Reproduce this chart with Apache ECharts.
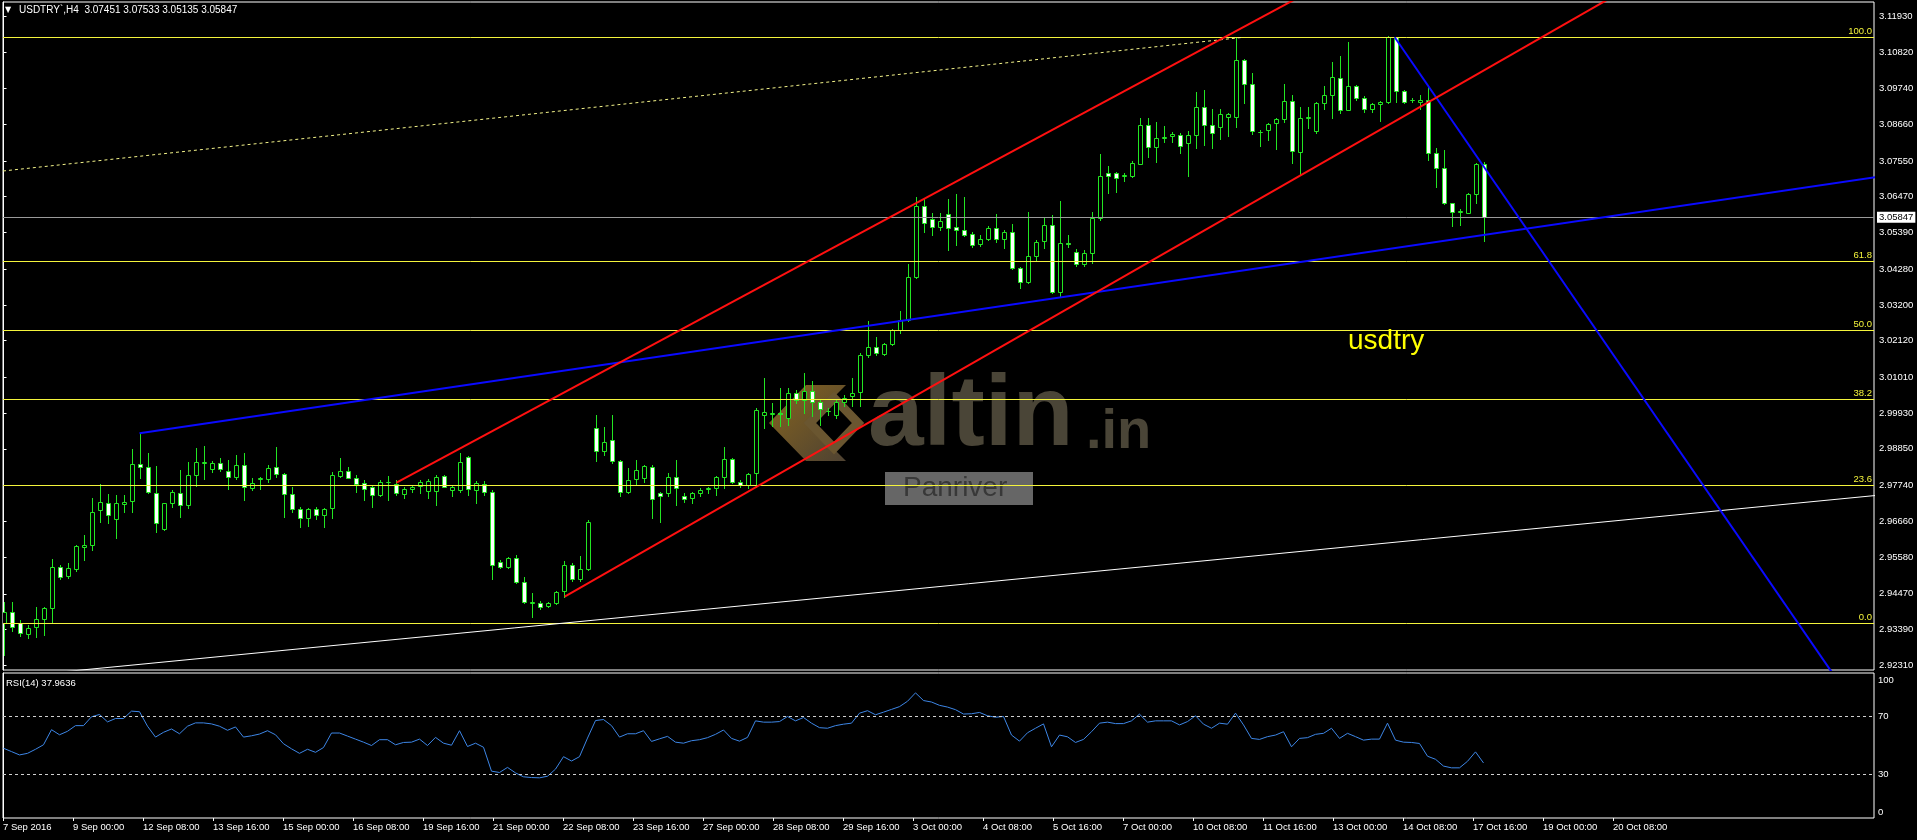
<!DOCTYPE html>
<html>
<head>
<meta charset="utf-8">
<script src="https://cdn.jsdelivr.net/npm/echarts@6.0.0/dist/echarts.min.js"></script>
<style>
html,body{margin:0;padding:0;background:#000;}
#chart{width:1917px;height:840px;}
</style>
</head>
<body>
<div id="chart"></div>
<script>
// ---------------- DATA ----------------
const symbolTitle = 'USDTRY`,H4  3.07451 3.07533 3.05135 3.05847';
const rsiTitle = 'RSI(14) 37.9636';

const opens = [
2.9358,2.9393,2.9358,2.9326,2.9346,2.9370,2.9403,2.9527,2.9501,2.9521,
2.9587,2.9594,2.9700,2.9722,2.9672,2.9718,2.9728,2.9838,2.9829,2.9753,
2.9643,2.9720,2.9753,2.9715,2.9805,2.9843,2.9823,2.9841,2.9819,2.9799,
2.9835,2.9768,2.9793,2.9793,2.9829,2.9808,2.9749,2.9702,2.9675,2.9702,
2.9684,2.9705,2.9804,2.9817,2.9796,2.9781,2.9769,2.9744,2.9784,2.9780,
2.9749,2.9763,2.9774,2.9757,2.9759,2.9803,2.9761,2.9761,2.9860,2.9761,
2.9779,2.9756,2.9544,2.9527,2.9554,2.9482,2.9418,2.9418,2.9409,2.9418,
2.9454,2.9534,2.9491,2.9521,2.9948,2.9877,2.9912,2.9847,2.9756,2.9795,
2.9796,2.9831,2.9751,2.9751,2.9801,2.9741,2.9736,2.9751,2.9763,2.9766,
2.9801,2.9853,2.9786,2.9776,2.9811,2.9988,2.9990,2.9992,2.9978,3.0055,
3.0033,3.0061,3.0025,3.0000,2.9988,3.0025,3.0046,3.0058,3.0169,3.0194,
3.0172,3.0202,3.0243,3.0273,3.0404,3.0619,3.0579,3.0555,3.0595,3.0555,
3.0547,3.0534,3.0504,3.0519,3.0552,3.0519,3.0540,3.0431,3.0388,3.0468,
3.0514,3.0560,3.0360,3.0506,3.0481,3.0443,3.0476,3.0582,3.0718,3.0718,
3.0711,3.0708,3.0746,3.0863,3.0798,3.0825,3.0829,3.0834,3.0808,3.0834,
3.0917,3.0864,3.0859,3.0887,3.0887,3.1060,3.0987,3.0843,3.0849,3.0869,
3.0882,3.0936,3.0783,3.0885,3.0847,3.0929,3.0954,3.1005,3.0909,3.0982,
3.0946,3.0912,3.0927,3.0932,3.1129,3.0966,3.0939,3.0932,3.0939,3.0778,
3.0733,3.0627,3.0602,3.0599,3.0655,3.07451];

const highs = [
2.9423,2.9423,2.9368,2.9353,2.9406,2.9408,2.9551,2.9534,2.9539,2.9594,
2.9625,2.9735,2.9779,2.9749,2.9746,2.9746,2.9883,2.9932,2.9871,2.9833,
2.9722,2.9761,2.9821,2.9846,2.9886,2.9894,2.9849,2.9856,2.9851,2.9866,
2.9871,2.9796,2.9801,2.9836,2.9889,2.9811,2.9771,2.9710,2.9705,2.9710,
2.9707,2.9816,2.9856,2.9829,2.9806,2.9791,2.9776,2.9791,2.9804,2.9791,
2.9771,2.9776,2.9792,2.9793,2.9805,2.9806,2.9776,2.9873,2.9863,2.9789,
2.9789,2.9761,2.9549,2.9559,2.9564,2.9499,2.9448,2.9426,2.9423,2.9456,
2.9546,2.9539,2.9561,2.9670,2.9988,2.9951,2.9988,2.9852,2.9827,2.9850,
2.9837,2.9836,2.9756,2.9811,2.9851,2.9751,2.9756,2.9766,2.9771,2.9804,
2.9892,2.9856,2.9791,2.9813,3.0007,3.0099,3.0023,3.0068,3.0068,3.0063,
3.0114,3.0089,3.0033,3.0008,3.0033,3.0048,3.0099,3.0176,3.0270,3.0224,
3.0206,3.0247,3.0303,3.0444,3.0645,3.0639,3.0599,3.0599,3.0639,3.0655,
3.0645,3.0539,3.0532,3.0559,3.0595,3.0545,3.0565,3.0436,3.0602,3.0517,
3.0585,3.0592,3.0635,3.0532,3.0488,3.0486,3.0602,3.0775,3.0741,3.0723,
3.0720,3.0756,3.0884,3.0884,3.0874,3.0861,3.0841,3.0839,3.0846,3.0964,
3.0970,3.0911,3.0911,3.0899,3.1127,3.1062,3.1020,3.0849,3.0871,3.0886,
3.0988,3.0954,3.0917,3.0919,3.0934,3.0982,3.1053,3.1072,3.1115,3.0985,
3.0951,3.0931,3.0936,3.1134,3.1129,3.0970,3.0946,3.0954,3.0980,3.0793,
3.0788,3.0629,3.0609,3.0657,3.0748,3.07533];

const lows = [
2.9262,2.9333,2.9318,2.9313,2.9316,2.9323,2.9358,2.9491,2.9494,2.9517,
2.9549,2.9579,2.9665,2.9660,2.9615,2.9695,2.9695,2.9796,2.9751,2.9635,
2.9640,2.9710,2.9680,2.9705,2.9773,2.9794,2.9816,2.9819,2.9763,2.9793,
2.9730,2.9761,2.9763,2.9786,2.9801,2.9680,2.9695,2.9650,2.9652,2.9674,
2.9648,2.9675,2.9801,2.9796,2.9756,2.9730,2.9710,2.9741,2.9730,2.9746,
2.9735,2.9756,2.9751,2.9735,2.9715,2.9769,2.9741,2.9756,2.9746,2.9720,
2.9746,2.9491,2.9524,2.9524,2.9479,2.9418,2.9376,2.9400,2.9406,2.9416,
2.9438,2.9487,2.9487,2.9519,2.9847,2.9867,2.9842,2.9743,2.9751,2.9776,
2.9786,2.9675,2.9665,2.9741,2.9715,2.9725,2.9720,2.9741,2.9751,2.9746,
2.9766,2.9781,2.9771,2.9766,2.9771,2.9948,2.9953,2.9953,2.9958,3.0023,
2.9993,2.9983,2.9958,2.9988,2.9978,3.0013,3.0013,3.0013,3.0164,3.0169,
3.0169,3.0199,3.0235,3.0270,3.0401,3.0539,3.0532,3.0547,3.0486,3.0501,
3.0527,3.0496,3.0498,3.0517,3.0511,3.0491,3.0428,3.0370,3.0386,3.0454,
3.0491,3.0355,3.0345,3.0494,3.0438,3.0438,3.0446,3.0577,3.0657,3.0660,
3.0693,3.0706,3.0746,3.0768,3.0753,3.0813,3.0813,3.0780,3.0708,3.0793,
3.0803,3.0793,3.0821,3.0831,3.0859,3.0929,3.0836,3.0801,3.0818,3.0791,
3.0874,3.0750,3.0713,3.0854,3.0839,3.0911,3.0884,3.0901,3.0909,3.0939,
3.0904,3.0904,3.0877,3.0929,3.0934,3.0929,3.0932,3.0911,3.0758,3.0676,
3.0625,3.0559,3.0562,3.0597,3.0629,3.05135];

const closes = [
2.9393,2.9348,2.9328,2.9343,2.9370,2.9403,2.9529,2.9499,2.9526,2.9591,
2.9593,2.9695,2.9725,2.9685,2.9720,2.9725,2.9838,2.9829,2.9754,2.9660,
2.9720,2.9754,2.9715,2.9805,2.9844,2.9844,2.9841,2.9823,2.9799,2.9835,
2.9771,2.9781,2.9796,2.9827,2.9808,2.9749,2.9702,2.9675,2.9702,2.9684,
2.9704,2.9805,2.9817,2.9798,2.9778,2.9765,2.9744,2.9786,2.9786,2.9753,
2.9763,2.9769,2.9786,2.9789,2.9801,2.9771,2.9769,2.9844,2.9763,2.9781,
2.9756,2.9534,2.9527,2.9556,2.9483,2.9423,2.9423,2.9406,2.9418,2.9451,
2.9534,2.9491,2.9523,2.9663,2.9877,2.9907,2.9847,2.9756,2.9791,2.9820,
2.9834,2.9733,2.9741,2.9801,2.9766,2.9733,2.9751,2.9761,2.9766,2.9801,
2.9853,2.9786,2.9776,2.9808,3.0002,2.9995,2.9992,2.9990,3.0055,3.0033,
3.0061,3.0025,3.0005,2.9998,3.0025,3.0040,3.0055,3.0169,3.0194,3.0174,
3.0202,3.0243,3.0273,3.0404,3.0619,3.0567,3.0555,3.0575,3.0552,3.0547,
3.0530,3.0501,3.0519,3.0552,3.0520,3.0540,3.0431,3.0388,3.0468,3.0511,
3.0560,3.0360,3.0506,3.0504,3.0443,3.0476,3.0582,3.0710,3.0708,3.0703,
3.0713,3.0748,3.0863,3.0798,3.0824,3.0827,3.0836,3.0801,3.0834,3.0919,
3.0864,3.0839,3.0896,3.0896,3.1060,3.0987,3.0844,3.0841,3.0866,3.0882,
3.0936,3.0786,3.0884,3.0887,3.0929,3.0954,3.1008,3.0909,3.0982,3.0944,
3.0912,3.0926,3.0932,3.1129,3.0966,3.0932,3.0940,3.0939,3.0778,3.0733,
3.0627,3.0602,3.0603,3.0655,3.0746,3.05847];

const rsiValues = [
48.1,45.8,43.5,44.6,47.4,50.5,60.9,57.4,59.8,63.7,
63.7,69.8,71.4,66.3,68.6,68.6,73.7,73.3,63.3,55.8,
59.1,61.4,58.1,63.3,65.6,65.6,64.9,63.3,60.5,62.8,
55.8,56.7,57.9,60.2,57.4,51.2,47.7,44.6,47.4,45.3,
48.6,58.6,58.6,56.5,54.4,52.3,50.0,54.0,54.0,50.5,
52.1,52.3,54.4,50.0,55.6,51.6,50.2,60.2,49.3,51.6,
48.8,32.3,31.4,34.9,31.1,28.4,27.9,27.7,28.8,33.7,
42.3,39.3,42.3,55.1,67.2,67.9,63.7,55.8,58.1,58.1,
60.2,52.8,54.6,56.3,52.3,51.6,53.3,54.0,55.4,57.7,
60.7,54.9,53.0,55.6,67.0,66.1,66.1,66.5,70.0,67.0,
69.3,65.4,62.3,61.9,63.7,64.7,65.4,72.3,74.0,71.2,
73.0,74.9,76.8,80.5,86.3,81.0,80.0,77.7,76.5,74.7,
71.7,71.9,72.8,70.5,69.5,70.0,57.2,53.0,58.8,61.9,
64.9,49.1,57.2,56.0,52.1,54.2,59.5,65.4,66.1,65.1,
65.1,67.0,71.6,66.1,67.0,67.0,67.0,64.2,66.5,70.5,
64.7,61.9,65.4,64.7,72.3,64.2,54.9,54.2,56.1,57.2,
59.5,49.1,54.9,55.4,57.7,58.4,61.9,54.9,58.4,56.1,
53.7,54.4,54.4,65.4,53.7,52.3,52.1,51.4,42.6,40.5,
35.8,34.6,34.6,39.1,45.6,37.96];

const xLabels = ['7 Sep 2016','9 Sep 00:00','12 Sep 08:00','13 Sep 16:00','15 Sep 00:00','16 Sep 08:00',
  '19 Sep 16:00','21 Sep 00:00','22 Sep 08:00','23 Sep 16:00','27 Sep 00:00','28 Sep 08:00','29 Sep 16:00',
  '3 Oct 00:00','4 Oct 08:00','5 Oct 16:00','7 Oct 00:00','10 Oct 08:00','11 Oct 16:00','13 Oct 00:00',
  '14 Oct 08:00','17 Oct 16:00','19 Oct 00:00','20 Oct 08:00'];

const yLabels = ['2.92310','2.93390','2.94470','2.95580','2.96660','2.97740','2.98850','2.99930','3.01010',
  '3.02120','3.03200','3.04280','3.05390','3.06470','3.07550','3.08660','3.09740','3.10820','3.11930'];

const rsiLabels = [0, 30, 70, 100];
const rsiLevels = [30, 70];

const fibHigh = 3.11281;
const fibLow = 2.93577;
const fibRatios = [100.0, 61.8, 50.0, 38.2, 23.6, 0.0];
const lastPrice = 3.05847;

// trend line anchors: [bar index, price]
const redUpper   = [[49.125, 2.97827], [156.64, 3.11810]];
const redLower   = [[70.15, 2.94381], [192.06, 3.11257]];
const blueLong   = [[17.0, 2.99319], [192.06, 3.05563]];
const blueSteep  = [[173.9, 3.11287], [192.06, 3.04910]];
const whiteLine  = [[11.06, 2.92196], [94.56, 2.94160]];
const dottedLine = [[-0.0625, 3.07246], [155.0, 3.11287]];

// ---------------- LAYOUT ----------------
const X_MIN = -0.0625, X_MAX = 233.8125;   // bar units across the plot width
const LABEL_EVERY = 8.75;                  // bar units between time labels
const Y_MIN = 2.921658, Y_MAX = 3.123535;
const GREEN = '#22e622';
const FONT = 'Liberation Sans, Arial, sans-serif';

const candleData = opens.map((o, i) => [i, o, highs[i], lows[i], closes[i]]);
const rsiData = rsiValues.map((v, i) => [i, v]);
const xLabelPos = xLabels.map((_, k) => k * LABEL_EVERY + X_MIN);
const yTickVals = yLabels.map(Number);

function ray(pts, xFrom, xTo) {
  const [a, b] = pts;
  const s = (b[1] - a[1]) / (b[0] - a[0]);
  const from = xFrom == null ? a : [xFrom, a[1] + s * (xFrom - a[0])];
  return [from, [xTo, a[1] + s * (xTo - a[0])]];
}

function lineSeries(data, color, width, type) {
  return {
    type: 'line', xAxisIndex: 0, yAxisIndex: 0, data: data, symbol: 'none',
    silent: true, clip: true, z: 5, animation: false,
    lineStyle: { color: color, width: width, type: type || 'solid' }
  };
}

const fibMarks = fibRatios.map(r => ({
  yAxis: fibLow + (fibHigh - fibLow) * r / 100,
  name: r.toFixed(1),
  lineStyle: { color: '#f4f43c', width: 1, type: 'solid' },
  label: { show: true, position: 'insideEndTop', formatter: r.toFixed(1), color: '#f4f43c',
           fontSize: 9.5, fontFamily: FONT, distance: [2, 1] }
}));

const chart = echarts.init(document.getElementById('chart'), null, { renderer: 'canvas' });

const option = {
  backgroundColor: '#000',
  animation: false,
  grid: [
    { left: 3, top: 2, width: 1871, height: 668, show: true, borderColor: '#ffffff', borderWidth: 1, backgroundColor: 'transparent' },
    { left: 3, top: 673, width: 1871, height: 145, show: true, borderColor: '#ffffff', borderWidth: 1, backgroundColor: 'transparent' }
  ],
  xAxis: [
    { type: 'value', gridIndex: 0, min: X_MIN, max: X_MAX, show: false },
    { type: 'value', gridIndex: 1, min: X_MIN, max: X_MAX,
      axisLine: { show: false }, splitLine: { show: false },
      axisTick: { show: true, length: 3, lineStyle: { color: '#ffffff' }, customValues: xLabelPos },
      axisLabel: { show: true, customValues: xLabelPos, color: '#ffffff', fontSize: 9.5, fontFamily: FONT,
        align: 'left', margin: 4,
        formatter: v => xLabels[Math.round((v - X_MIN) / LABEL_EVERY)] || '' } }
  ],
  yAxis: [
    { type: 'value', gridIndex: 0, position: 'right', min: Y_MIN, max: Y_MAX, scale: true,
      axisLine: { show: true, lineStyle: { color: '#ffffff' } },
      splitLine: { show: false },
      axisTick: { show: true, length: 3, lineStyle: { color: '#ffffff' }, customValues: yTickVals },
      axisLabel: { show: true, customValues: yTickVals, color: '#ffffff', fontSize: 9.5, fontFamily: FONT, margin: 5,
        formatter: v => { const k = yTickVals.findIndex(t => Math.abs(t - v) < 1e-7); return k >= 0 ? yLabels[k] : ''; } } },
    { type: 'value', gridIndex: 1, position: 'right', min: 0, max: 100,
      axisLine: { show: true, lineStyle: { color: '#ffffff' } },
      splitLine: { show: false },
      axisTick: { show: false, customValues: rsiLabels },
      axisLabel: { show: true, customValues: rsiLabels, color: '#ffffff', fontSize: 9.5, fontFamily: FONT, margin: 4,
        formatter: v => v === 100 ? '{t|100}' : (v === 0 ? '{b|0}' : String(v)),
        rich: { t: { padding: [14, 0, 0, 0], color: '#ffffff', fontSize: 9.5, fontFamily: FONT },
                b: { padding: [0, 0, 12, 0], color: '#ffffff', fontSize: 9.5, fontFamily: FONT } } } }
  ],
  series: [
    { // fibonacci levels + last price line
      type: 'line', xAxisIndex: 0, yAxisIndex: 0, data: [], symbol: 'none', silent: true, z: 3,
      markLine: {
        silent: true, symbol: ['none', 'none'], animation: false, precision: 6,
        data: fibMarks.concat([{
          yAxis: lastPrice, name: 'last',
          lineStyle: { color: '#9a9a9a', width: 1, type: 'solid' },
          label: { show: true, position: 'end', formatter: lastPrice.toFixed(5), color: '#000000',
                   backgroundColor: '#ffffff', padding: [1, 2, 0, 2], fontSize: 9.5, fontFamily: FONT, distance: 3 }
        }])
      }
    },
    { // candlesticks
      type: 'custom', xAxisIndex: 0, yAxisIndex: 0, data: candleData, clip: true, z: 4, silent: true,
      encode: { x: 0, y: [1, 2, 3, 4] },
      renderItem: function (params, api) {
        const i = api.value(0), o = api.value(1), h = api.value(2), l = api.value(3), c = api.value(4);
        const pO = api.coord([i, o]), pC = api.coord([i, c]), pH = api.coord([i, h]), pL = api.coord([i, l]);
        const cx = Math.round(pO[0]) + 0.5;
        const top = Math.round(Math.min(pO[1], pC[1]));
        const bot = Math.round(Math.max(pO[1], pC[1]));
        const bull = c >= o;
        return {
          type: 'group',
          children: [
            { type: 'line', shape: { x1: cx, y1: Math.round(pH[1]), x2: cx, y2: Math.round(pL[1]) + 1 },
              style: { stroke: GREEN, lineWidth: 1 } },
            { type: 'rect', shape: { x: cx - 2, y: top + 0.5, width: 4, height: Math.max(bot - top, 0) },
              style: { fill: bull ? '#000000' : '#ffffff', stroke: GREEN, lineWidth: 1 } }
          ]
        };
      }
    },
    lineSeries(dottedLine, '#f4f48a', 1, [3, 3]),
    lineSeries(ray(whiteLine, -5, 240), '#ffffff', 1),
    lineSeries(ray(blueLong, null, 240), '#0a0aff', 2),
    lineSeries(ray(blueSteep, null, 240), '#0a0aff', 2),
    lineSeries(ray(redUpper, null, 240), '#ff1010', 2),
    lineSeries(ray(redLower, null, 240), '#ff1010', 2),
    { // RSI
      type: 'line', xAxisIndex: 1, yAxisIndex: 1, data: rsiData, symbol: 'none', silent: true, z: 4,
      lineStyle: { color: '#3d86e6', width: 1 },
      markLine: {
        silent: true, symbol: ['none', 'none'], animation: false, precision: 4,
        label: { show: false },
        lineStyle: { color: '#d0d0d0', width: 1, type: [3, 3] },
        data: rsiLevels.map(v => ({ yAxis: v }))
      }
    }
  ],
  graphic: [
    // watermark (behind the chart)
    { type: 'polygon', z: 0, silent: true,
      shape: { points: [[769, 423], [806, 385], [846, 385], [808, 423], [846, 461], [806, 461]] },
      style: { fill: new echarts.graphic.LinearGradient(0, 0, 1, 1, [
        { offset: 0, color: '#86641f' }, { offset: 1, color: '#4e4232' }]) } },
    { type: 'polygon', z: 0, silent: true,
      shape: { points: [[834, 398], [858, 423], [834, 448], [810, 423]] },
      style: { fill: 'none', stroke: '#6a5630', lineWidth: 9 } },
    { type: 'text', z: 0, silent: true, x: 868, y: 417,
      style: { text: 'altin', fill: '#4a4537', font: 'bold 100px ' + FONT, verticalAlign: 'middle', align: 'left' } },
    { type: 'text', z: 0, silent: true, x: 1086, y: 433,
      style: { text: '.in', fill: '#4a4537', font: 'bold 56px ' + FONT, verticalAlign: 'middle', align: 'left' } },
    { type: 'rect', z: 0, silent: true, shape: { x: 885, y: 472, width: 148, height: 33 },
      style: { fill: '#666666' } },
    { type: 'text', z: 0, silent: true, x: 903, y: 488,
      style: { text: 'Panriver', fill: '#383838', font: '28px ' + FONT, verticalAlign: 'middle', align: 'left' } },
    // header
    { type: 'text', z: 20, silent: true, x: 5, y: 10,
      style: { text: '▼', fill: '#ffffff', font: '8px DejaVu Sans', verticalAlign: 'middle', align: 'left' } },
    { type: 'text', z: 20, silent: true, x: 19, y: 10,
      style: { text: symbolTitle, fill: '#ffffff', font: '10px ' + FONT, verticalAlign: 'middle', align: 'left' } },
    { type: 'text', z: 20, silent: true, x: 6, y: 683,
      style: { text: rsiTitle, fill: '#ffffff', font: '9.5px ' + FONT, verticalAlign: 'middle', align: 'left' } },
    { type: 'text', z: 20, silent: true, x: 1348, y: 341,
      style: { text: 'usdtry', fill: '#ffff00', font: '28px ' + FONT, verticalAlign: 'middle', align: 'left' } }
  ]
};

chart.setOption(option);
</script>
</body>
</html>
